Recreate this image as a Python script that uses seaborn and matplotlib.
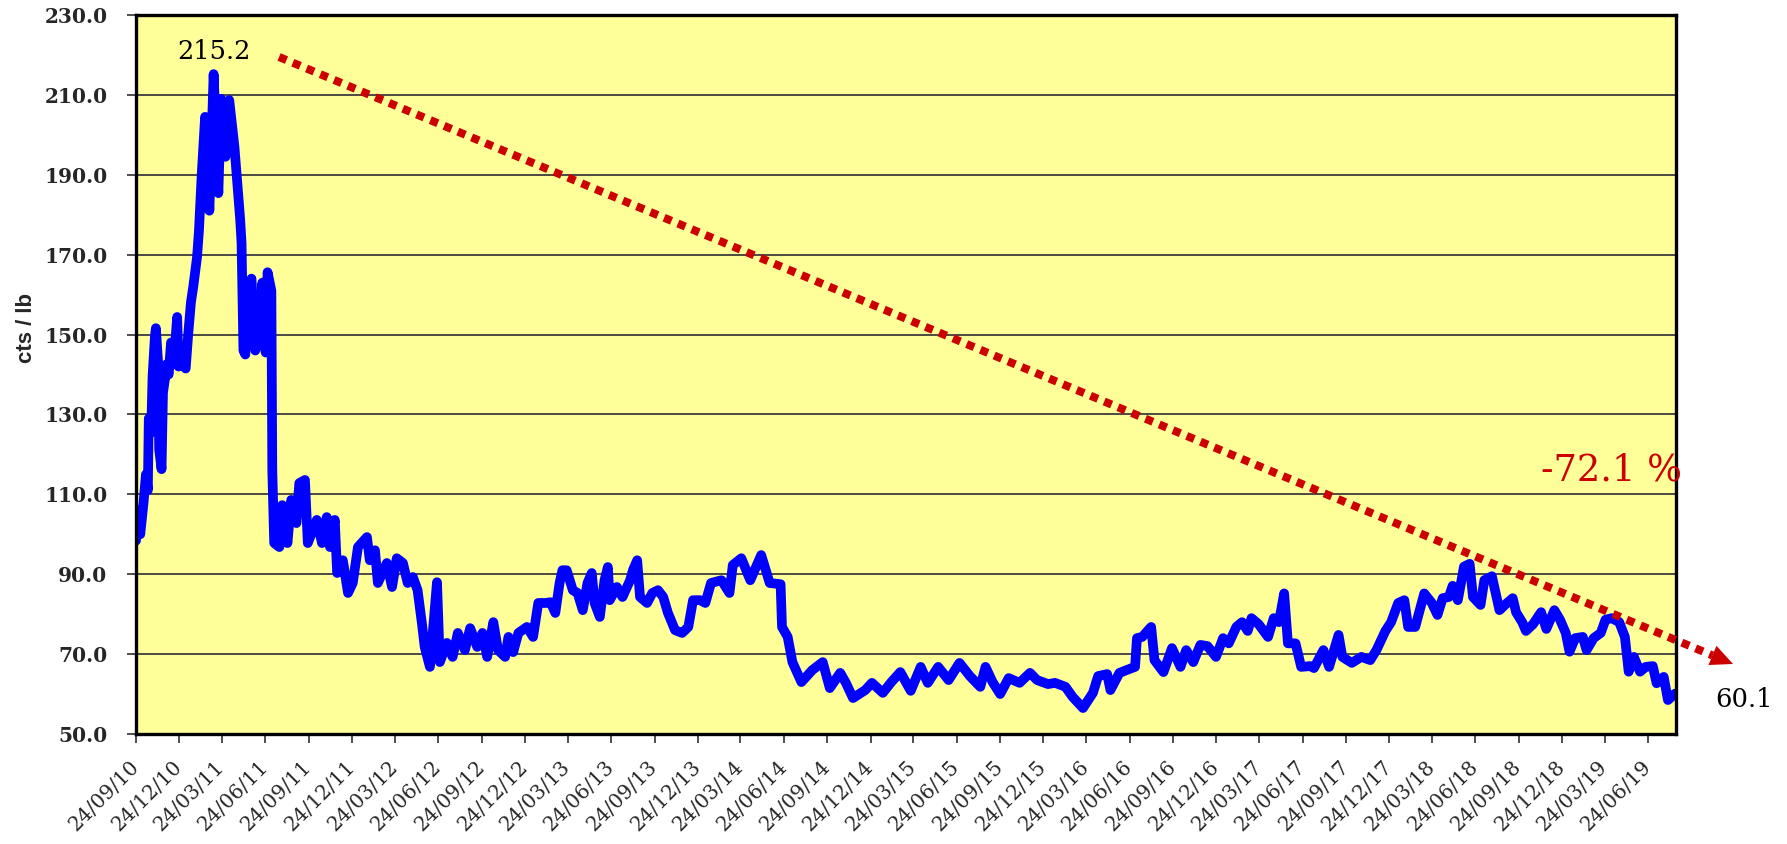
import matplotlib
matplotlib.use('Agg')
import matplotlib.pyplot as plt
from matplotlib.patches import FancyArrowPatch
import seaborn as sns
import pandas as pd
import numpy as np

# ---------------- data ----------------
dates = [
    '2010-09-24', '2010-09-28', '2010-10-03', '2010-10-10', '2010-10-15', '2010-10-19', '2010-10-21',
    '2010-10-26', '2010-10-29', '2010-11-03', '2010-11-05', '2010-11-10', '2010-11-12', '2010-11-17',
    '2010-11-20', '2010-11-25', '2010-11-27', '2010-12-02', '2010-12-07', '2010-12-11', '2010-12-16',
    '2010-12-20', '2010-12-23', '2010-12-31', '2011-01-07', '2011-01-12', '2011-01-18', '2011-01-23',
    '2011-01-31', '2011-02-04', '2011-02-10', '2011-02-17', '2011-02-22', '2011-02-26', '2011-03-07',
    '2011-03-17', '2011-03-23', '2011-04-01', '2011-04-09', '2011-04-20', '2011-04-26', '2011-05-02',
    '2011-05-05', '2011-05-09', '2011-05-13', '2011-05-17', '2011-05-26', '2011-06-03', '2011-06-11',
    '2011-06-18', '2011-06-25', '2011-06-29', '2011-07-07', '2011-07-09', '2011-07-13', '2011-07-24',
    '2011-07-30', '2011-08-10', '2011-08-18', '2011-08-29', '2011-09-04', '2011-09-16', '2011-09-22',
    '2011-10-11', '2011-10-22', '2011-11-01', '2011-11-08', '2011-11-18', '2011-11-23', '2011-12-05',
    '2011-12-16', '2011-12-26', '2012-01-06', '2012-01-25', '2012-01-31', '2012-02-11', '2012-02-17',
    '2012-03-07', '2012-03-18', '2012-03-28', '2012-04-10', '2012-04-20', '2012-05-01', '2012-05-11',
    '2012-05-20', '2012-05-26', '2012-06-06', '2012-06-12', '2012-06-21', '2012-06-27', '2012-07-12',
    '2012-07-24', '2012-08-04', '2012-08-19', '2012-08-30', '2012-09-14', '2012-09-25', '2012-10-05',
    '2012-10-18', '2012-10-28', '2012-11-12', '2012-11-19', '2012-11-29', '2012-12-10', '2012-12-28',
    '2013-01-10', '2013-01-21', '2013-02-05', '2013-02-16', '2013-02-26', '2013-03-07', '2013-03-13',
    '2013-03-22', '2013-04-04', '2013-04-14', '2013-04-25', '2013-05-05', '2013-05-14', '2013-05-20',
    '2013-05-31', '2013-06-10', '2013-06-17', '2013-06-21', '2013-07-06', '2013-07-18', '2013-08-03',
    '2013-08-09', '2013-08-18', '2013-08-24', '2013-09-08', '2013-09-19', '2013-10-01', '2013-10-12',
    '2013-10-22', '2013-11-06', '2013-11-21', '2013-12-04', '2013-12-14', '2013-12-29', '2014-01-09',
    '2014-01-21', '2014-02-12', '2014-03-01', '2014-03-08', '2014-03-26', '2014-04-14', '2014-05-07',
    '2014-05-25', '2014-06-17', '2014-06-20', '2014-07-02', '2014-07-12', '2014-07-31', '2014-08-23',
    '2014-09-14', '2014-09-29', '2014-10-21', '2014-11-02', '2014-11-17', '2014-12-13', '2014-12-27',
    '2015-01-19', '2015-02-06', '2015-02-25', '2015-03-19', '2015-04-09', '2015-04-24', '2015-05-16',
    '2015-06-07', '2015-06-30', '2015-07-22', '2015-08-13', '2015-08-24', '2015-09-08', '2015-09-24',
    '2015-10-12', '2015-11-04', '2015-11-26', '2015-12-11', '2016-01-03', '2016-01-18', '2016-02-09',
    '2016-02-24', '2016-03-17', '2016-04-07', '2016-04-18', '2016-05-07', '2016-05-14', '2016-06-02',
    '2016-06-17', '2016-07-05', '2016-07-09', '2016-07-20', '2016-08-08', '2016-08-15', '2016-09-03',
    '2016-09-21', '2016-10-09', '2016-10-21', '2016-11-05', '2016-11-20', '2016-12-05', '2016-12-23',
    '2017-01-07', '2017-01-19', '2017-01-30', '2017-02-04', '2017-02-16', '2017-02-28', '2017-03-08',
    '2017-03-23', '2017-04-12', '2017-04-24', '2017-05-05', '2017-05-16', '2017-05-24', '2017-06-09',
    '2017-06-21', '2017-07-10', '2017-07-18', '2017-08-07', '2017-08-19', '2017-09-08', '2017-09-16',
    '2017-10-06', '2017-10-26', '2017-11-14', '2017-11-27', '2017-12-16', '2017-12-28', '2018-01-12',
    '2018-01-25', '2018-02-02', '2018-02-17', '2018-03-08', '2018-03-24', '2018-04-05', '2018-04-16',
    '2018-04-29', '2018-05-07', '2018-05-18', '2018-05-31', '2018-06-12', '2018-06-19', '2018-07-05',
    '2018-07-13', '2018-07-29', '2018-08-14', '2018-08-30', '2018-09-11', '2018-09-18', '2018-10-01',
    '2018-10-09', '2018-10-24', '2018-11-10', '2018-11-21', '2018-12-08', '2018-12-20', '2019-01-01',
    '2019-01-09', '2019-01-21', '2019-02-06', '2019-02-14', '2019-03-01', '2019-03-16', '2019-03-26',
    '2019-04-08', '2019-04-24', '2019-05-06', '2019-05-14', '2019-05-25', '2019-06-07', '2019-06-19',
    '2019-07-04', '2019-07-12', '2019-07-27', '2019-08-05', '2019-08-20',
]
prices = [
    98.4, 106.0, 100.0, 108.0, 115.0, 111.0, 129.0,
    125.5, 139.6, 149.6, 151.6, 142.5, 121.2, 116.3,
    135.4, 139.6, 142.5, 140.0, 148.0, 142.5, 148.0,
    154.4, 142.0, 143.0, 141.5, 149.6, 158.0, 162.0,
    169.4, 176.0, 190.4, 204.5, 194.0, 181.0, 215.2,
    185.4, 209.0, 194.5, 208.7, 197.0, 188.0, 179.0,
    173.0, 146.0, 145.0, 160.0, 164.0, 146.0, 150.0,
    163.0, 145.5, 165.6, 161.0, 116.0, 97.8, 96.8,
    107.3, 97.8, 108.6, 102.8, 112.8, 113.6, 97.8,
    103.6, 97.8, 104.3, 96.8, 103.6, 90.3, 93.5,
    85.3, 87.8, 96.8, 99.3, 93.5, 96.0, 87.8,
    92.8, 86.8, 94.0, 92.8, 87.8, 89.3, 86.0,
    77.8, 71.8, 66.8, 75.3, 88.0, 68.0, 72.8,
    69.3, 75.3, 71.0, 76.5, 71.8, 75.3, 69.3,
    78.0, 71.0, 69.3, 74.3, 70.5, 75.3, 76.8,
    74.3, 82.8, 82.8, 83.0, 80.3, 87.8, 91.0,
    91.0, 86.0, 85.3, 81.0, 87.8, 90.3, 82.8,
    79.3, 88.5, 91.8, 83.5, 86.8, 84.3, 88.5,
    91.0, 93.5, 84.3, 82.8, 85.3, 86.0, 84.3,
    80.3, 76.0, 75.3, 76.8, 83.5, 83.5, 82.8,
    87.8, 88.5, 85.3, 92.3, 94.0, 88.5, 94.8,
    87.8, 87.5, 76.8, 74.3, 68.0, 63.0, 66.0,
    68.0, 61.5, 65.3, 62.8, 59.0, 61.0, 62.8,
    60.3, 63.0, 65.5, 60.8, 66.8, 62.8, 66.8,
    63.5, 67.8, 64.5, 61.8, 66.8, 63.0, 60.0,
    64.0, 62.8, 65.3, 63.5, 62.5, 62.8, 61.8,
    59.3, 56.5, 60.3, 64.5, 65.0, 61.0, 65.3,
    66.0, 66.8, 74.0, 74.3, 76.8, 68.5, 65.5,
    71.5, 66.8, 71.0, 68.0, 72.3, 72.0, 69.3,
    74.0, 72.7, 75.5, 76.8, 78.0, 75.8, 79.0,
    77.5, 74.3, 79.0, 78.0, 85.2, 72.7, 72.7,
    66.8, 67.0, 66.5, 71.0, 66.8, 74.8, 69.3,
    67.8, 69.3, 68.5, 71.0, 75.8, 78.0, 82.8,
    83.5, 76.8, 76.8, 85.2, 82.8, 79.8, 84.0,
    84.3, 87.1, 83.5, 91.9, 92.6, 84.3, 82.3,
    88.5, 89.5, 81.0, 82.8, 84.0, 80.5, 78.0,
    75.8, 77.5, 80.5, 76.3, 81.0, 78.6, 75.3,
    70.6, 74.0, 74.3, 71.0, 74.0, 75.3, 78.6,
    79.0, 78.0, 74.3, 65.6, 69.3, 65.6, 66.8,
    67.0, 62.7, 64.3, 58.5, 60.1,
]
y_ticks = [50.0, 70.0, 90.0, 110.0, 130.0, 150.0, 170.0, 190.0, 210.0, 230.0]
x_tick_start, x_tick_end = '2010-09-24', '2019-06-24'
x_end = '2019-08-22'
peak_label = '215.2'
last_label = '60.1'
change_label = '-72.1 %'

# ---------------- figure ----------------
sns.set_theme(style='ticks')
W_PX, H_PX, DPI = 1787, 844, 100
fig = plt.figure(figsize=(W_PX / DPI, H_PX / DPI), dpi=DPI)
fig.patch.set_facecolor('white')
ax = fig.add_axes([136 / W_PX, 1 - 734 / H_PX, 1540 / W_PX, 719 / H_PX])
ax.set_facecolor('#FFFF99')

df = pd.DataFrame({'date': pd.to_datetime(dates), 'price': prices})
sns.lineplot(data=df, x='date', y='price', ax=ax, color='#0000FF', linewidth=7,
             solid_joinstyle='round', solid_capstyle='round', zorder=2)

ax.set_ylim(50, 230)
ax.set_xlim(pd.Timestamp(dates[0]), pd.Timestamp(x_end))

ax.set_yticks(y_ticks)
ax.set_yticklabels([f'{v:.1f}' for v in y_ticks], fontfamily='DejaVu Serif',
                   fontweight='bold', fontsize=14.5)
xt = pd.date_range(x_tick_start, x_tick_end, freq=pd.DateOffset(months=3))
ax.set_xticks(xt)
ax.set_xticklabels([d.strftime('%d/%m/%y') for d in xt], rotation=45, ha='right',
                   va='center', rotation_mode='anchor', fontfamily='DejaVu Serif', fontsize=14.5)

ax.grid(axis='y', color='#3c3c3c', linewidth=1.3)
ax.grid(axis='x', visible=False)
ax.set_axisbelow(True)
for s in ax.spines.values():
    s.set_linewidth(2.4)
    s.set_color('black')
ax.tick_params(axis='x', length=6.5, width=1.3, color='#404040', pad=15)
ax.tick_params(axis='y', length=6.5, width=1.3, color='#404040', pad=14)

ax.set_xlabel('')
ax.set_ylabel('cts / lb', fontfamily='Liberation Sans', fontweight='bold', fontsize=16)
ax.yaxis.set_label_coords(-0.064, 0.565)

# ---------------- annotations ----------------
peak_i = int(np.argmax(prices))
ax.annotate(peak_label, xy=(pd.Timestamp(dates[peak_i]), prices[peak_i]), xytext=(0, 16),
            textcoords='offset points', ha='center', va='center',
            fontfamily='DejaVu Serif', fontsize=18.5, color='black')
ax.annotate(last_label, xy=(pd.Timestamp(dates[-1]), prices[-1]), xytext=(50, -4),
            textcoords='offset points', ha='center', va='center', annotation_clip=False,
            fontfamily='DejaVu Serif', fontsize=18.5, color='black')
ax.text(0.958, 0.367, change_label, transform=ax.transAxes, color='#CC0000', fontsize=26.5,
        ha='center', va='center', fontfamily='DejaVu Serif', zorder=5)

# dotted trend arrow
x0, y0 = 0.0929, 0.9416
x1, y1 = 1.037, 0.0974
AW, AH = 1540.0, 719.0
dxp, dyp = (x1 - x0) * AW, (y1 - y0) * AH
L = np.hypot(dxp, dyp)
ux, uy = dxp / L, dyp / L
head = 22.0
xb, yb = x1 - ux * head / AW, y1 - uy * head / AH
ax.plot([x0, xb], [y0, yb], transform=ax.transAxes, clip_on=False, color='#CC0000',
        lw=5.8, linestyle=(0, (1, 0.85)), dash_capstyle='butt', zorder=4)
arrow = FancyArrowPatch((x1 - ux * 40 / AW, y1 - uy * 40 / AH), (x1, y1),
                        transform=ax.transAxes,
                        arrowstyle='-|>,head_length=0.64,head_width=0.3',
                        mutation_scale=25, color='#CC0000', lw=0, clip_on=False,
                        shrinkA=0, shrinkB=0, zorder=4)
ax.add_patch(arrow)

fig.savefig('out.png', dpi=DPI, facecolor='white')
